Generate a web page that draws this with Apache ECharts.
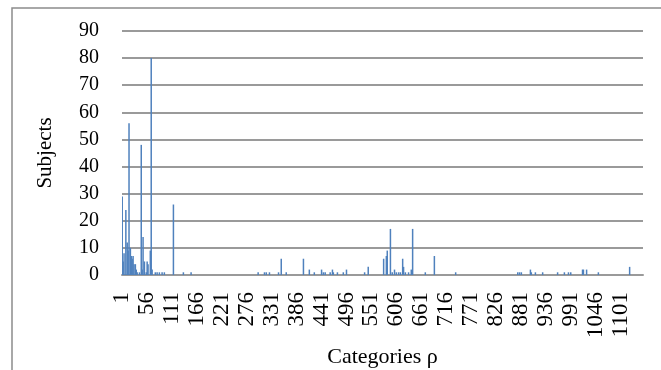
<!DOCTYPE html>
<html>
<head>
<meta charset="utf-8">
<script src="https://cdn.jsdelivr.net/npm/echarts@6/dist/echarts.min.js"></script>
<style>
  html, body { margin: 0; padding: 0; background: #fff; }
  #chart { width: 661px; height: 370px; }
</style>
</head>
<body>
<div id="chart"></div>
<script>
// Number of categories on the x axis (1 .. CATEGORY_COUNT)
const CATEGORY_COUNT = 1150;

// Non-empty categories: category number and subject count
const categoryIds = [
  1, 3, 5, 9, 12, 14, 16, 19, 21, 23, 25, 27, 30, 32, 34, 39,
  43, 45, 47, 50, 54, 56, 58, 63, 65, 67, 74, 78, 83, 89, 94,
  114, 136, 153,
  301, 315, 319, 326, 346, 352, 363, 401, 414, 425, 441, 445, 449,
  460, 465, 467, 476, 489, 496, 536, 544,
  578, 584, 586, 593, 597, 602, 606, 611, 615, 620, 622, 626, 633, 639, 642,
  670, 690, 737,
  874, 878, 882, 902, 904, 913, 929, 962, 977, 986, 991,
  1017, 1019, 1026, 1052, 1121
];
const subjectCounts = [
  29, 5, 8, 24, 12, 9, 56, 10, 7, 6, 7, 4, 4, 2, 1, 1,
  48, 2, 14, 5, 1, 5, 4, 9, 80, 2, 1, 1, 1, 1, 1,
  26, 1, 1,
  1, 1, 1, 1, 1, 6, 1, 6, 2, 1, 2, 1, 1,
  1, 2, 1, 1, 1, 2, 1, 3,
  6, 7, 9, 17, 1, 2, 1, 1, 1, 6, 3, 1, 1, 2, 17,
  1, 7, 1,
  1, 1, 1, 2, 1, 1, 1, 1, 1, 1, 1,
  2, 2, 2, 1, 3
];

// Y axis ticks
const yMin = 0, yMax = 90, yStep = 10;
// Every 55th category gets a label (1, 56, 111, ...)
const labelEvery = 55;

const categories = [];
for (let i = 1; i <= CATEGORY_COUNT; i++) categories.push(String(i));
const values = new Array(CATEGORY_COUNT).fill(0);
categoryIds.forEach((id, k) => { values[id - 1] = subjectCounts[k]; });

const serif = '"Liberation Serif", "DejaVu Serif", serif';
const chart = echarts.init(document.getElementById('chart'));
chart.setOption({
  animation: false,
  backgroundColor: '#ffffff',
  graphic: [{
    type: 'rect',
    shape: { x: 12, y: 8, width: 700, height: 400 },
    style: { fill: 'none', stroke: '#8c8c8c', lineWidth: 1.5 },
    silent: true
  }],
  grid: {
    left: 122, right: 18, top: 31, bottom: 95,
    containLabel: false,
    outerBoundsMode: 'none'
  },
  xAxis: {
    type: 'category',
    data: categories,
    boundaryGap: true,
    name: 'Categories ρ',
    nameLocation: 'middle',
    nameGap: 68,
    nameTextStyle: { fontFamily: serif, fontSize: 22, color: '#000' },
    axisLine: { show: true, lineStyle: { color: '#9a9a9a', width: 2 } },
    axisTick: { show: false },
    axisLabel: {
      interval: labelEvery - 1,
      rotate: 90,
      margin: 17,
      fontFamily: serif,
      fontSize: 23,
      color: '#000'
    }
  },
  yAxis: {
    type: 'value',
    min: yMin,
    max: yMax,
    interval: yStep,
    name: 'Subjects',
    nameLocation: 'middle',
    nameGap: 66,
    nameTextStyle: { fontFamily: serif, fontSize: 21, color: '#000' },
    axisLine: { show: false },
    axisTick: { show: false },
    axisLabel: { margin: 23, fontFamily: serif, fontSize: 20, color: '#000' },
    splitLine: { show: true, lineStyle: { color: '#9a9a9a', width: 2 } }
  },
  series: [{
    type: 'bar',
    data: values,
    barWidth: 1.5,
    itemStyle: { color: '#4f81bd' },
    silent: true
  }]
});
</script>
</body>
</html>
